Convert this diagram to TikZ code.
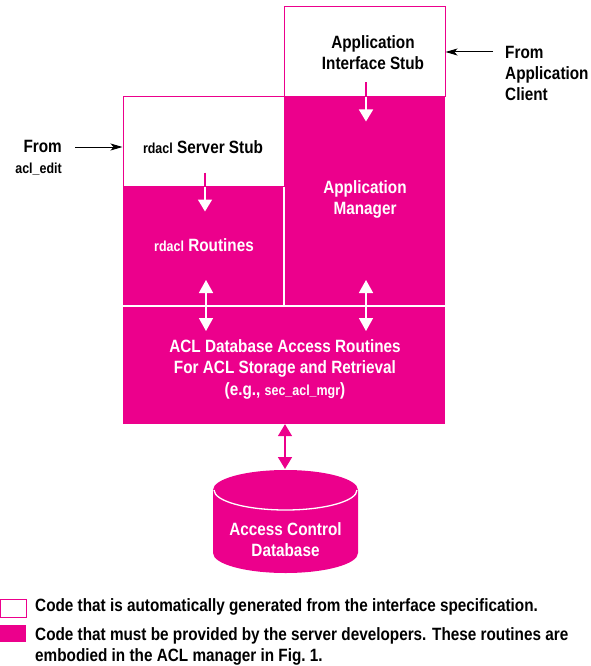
\documentclass[tikz,border=0pt]{standalone}
\usepackage{fontspec}
\setmainfont{Liberation Sans}[FakeStretch=0.86]
\usetikzlibrary{arrows.meta,calc}
\definecolor{hpmag}{RGB}{236,0,140}
\newcommand{\smallcode}[1]{{\fontsize{14.5}{16}\selectfont #1}}
\tikzset{
  lbl/.style={font=\bfseries\fontsize{17.8}{21}\selectfont, inner sep=0pt, align=center},
  wlbl/.style={lbl, text=white},
  stubbox/.style={draw=hpmag, line width=1pt, fill=white, inner sep=0pt},
  codebox/.style={fill=hpmag, draw=none, inner sep=0pt},
  gap/.style={draw=white, line width=1.6pt},
  wflow/.style={draw=white, line width=1.6pt, -{Triangle[width=14pt,length=12pt]}},
  wboth/.style={draw=white, line width=1.6pt, {Triangle[width=14pt,length=13pt]}-{Triangle[width=14pt,length=13pt]}},
  mboth/.style={draw=hpmag, line width=1.6pt, {Triangle[width=14pt,length=12pt]}-{Triangle[width=14pt,length=12pt]}},
  inflow/.style={draw=black, line width=1pt, -{Stealth[length=12pt,width=7pt,inset=3pt]}}
}
\begin{document}
\begin{tikzpicture}[x=1pt,y=-1pt]
\useasboundingbox (0,0) rectangle (590,666);

% code supplied by the developers
\node[codebox, minimum width=161pt, minimum height=209pt] (appmgr) at (364.5,201.5) {};
\node[codebox, minimum width=161pt, minimum height=120pt] (routines) at (203.5,246) {};
\node[codebox, minimum width=322pt, minimum height=118pt] (acldb) at (284,365) {};
\draw[gap] (284,186) -- (284,306);
\draw[gap] (123,306) -- (445,306);

% generated stubs
\node[stubbox, minimum width=161pt, minimum height=90pt] (stub) at (364.5,52) {};
\node[stubbox, minimum width=161pt, minimum height=89pt] (srvstub) at (203.5,141.5) {};

% labels inside the boxes
\node[lbl] (stubtxt) at (373,52.5) {Application\\Interface Stub};
\node[lbl] (srvtxt) at (203,147) {\smallcode{rdacl} Server Stub};
\node[wlbl] (routtxt) at (204,245) {\smallcode{rdacl} Routines};
\node[wlbl] (mgrtxt) at (365,199) {Application\\Manager};
\node[wlbl] (acltxt) at (285,369) {ACL Database Access Routines\\For ACL Storage and Retrieval\\[1pt]
  (e.g., \smallcode{sec\_acl\_mgr})};

% flow from the stubs into the routines
\coordinate (s1) at ($(stub.south)+(1.5,-15)$);
\coordinate (s2) at ($(stub.south)+(1.5,24)$);
\draw[wflow] (s1) -- (s2);
\draw[draw=hpmag, line width=1.6pt] (s1) -- (stub.south -| s1);
\coordinate (r1) at ($(srvstub.south)+(1.5,-14)$);
\coordinate (r2) at ($(srvstub.south)+(1.5,25)$);
\draw[wflow] (r1) -- (r2);
\draw[draw=hpmag, line width=1.6pt] (r1) -- (srvstub.south -| r1);

% two-way access to the database routines
\coordinate (a1) at (206,280);
\coordinate (a2) at (206,331);
\coordinate (b1) at (366,280);
\coordinate (b2) at (366,331);
\draw[wboth] (a1) -- (a2);
\draw[wboth] (b1) -- (b2);

% database cylinder
\fill[hpmag] (213,490) -- (213,553)
  arc[start angle=180, end angle=0, x radius=72.5, y radius=20]
  -- (358,490)
  arc[start angle=0, end angle=-180, x radius=72.5, y radius=20] -- cycle;
\draw[white, line width=1.3pt] (214,490)
  arc[start angle=180, end angle=0, x radius=71.5, y radius=20];
\coordinate (dbtop) at (285,469);
\node[wlbl] (dbtxt) at (285.5,539.5) {Access Control\\Database};
\draw[mboth] (acldb.south -| dbtop) -- (dbtop);

% external callers
\node[lbl, align=right, anchor=east] (fromedit) at (62,157.5) {From\\\smallcode{acl\_edit}};
\coordinate (e1) at (75,147);
\draw[inflow] (e1) -- (srvstub.west |- e1);
\node[lbl, align=left, anchor=west] (fromclient) at (505,73.5) {From\\Application\\Client};
\coordinate (c1) at (493,52);
\draw[inflow] (c1) -- (stub.east |- c1);

% legend
\node[stubbox, minimum width=26pt, minimum height=18pt] (keystub) at (13,608) {};
\node[codebox, minimum width=26pt, minimum height=17pt] (keycode) at (13,633.5) {};
\node[lbl, anchor=west, align=left] (keytxt1) at (35,607) {Code that is automatically generated from the interface specification.};
\node[lbl, anchor=north west, align=left] (keytxt2) at (35,627) {Code that must be provided by the server developers. These routines are\\embodied in the ACL manager in Fig.~1.};
\end{tikzpicture}
\end{document}
